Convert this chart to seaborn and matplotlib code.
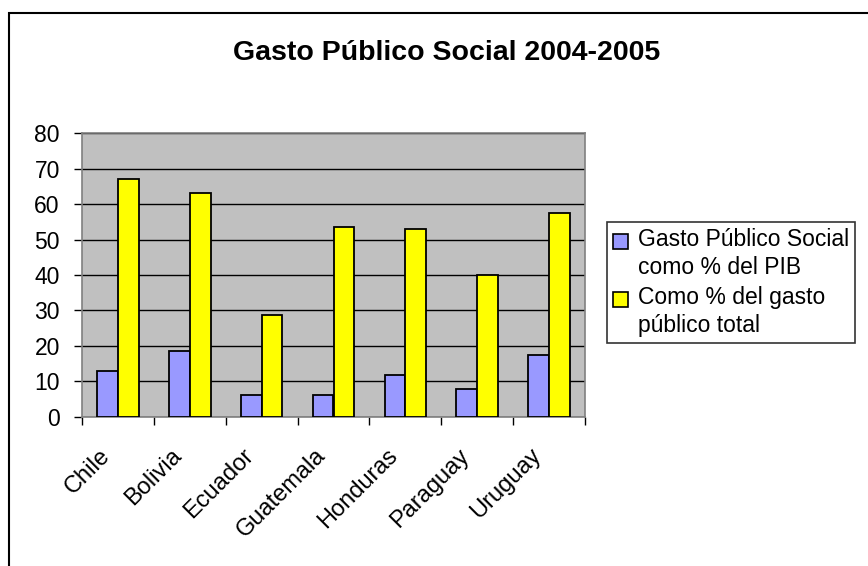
import matplotlib
matplotlib.use("Agg")
import matplotlib.pyplot as plt
import matplotlib.transforms as mtransforms
import seaborn as sns
import pandas as pd
from matplotlib.patches import Rectangle, Patch
from matplotlib.legend_handler import HandlerPatch

countries = ["Chile", "Bolivia", "Ecuador", "Guatemala", "Honduras", "Paraguay", "Uruguay"]
pib = [13.0, 18.6, 6.1, 6.1, 11.8, 7.9, 17.4]
total = [67.0, 63.1, 28.7, 53.5, 53.0, 40.0, 57.4]
series = ["Gasto Público Social\ncomo % del PIB", "Como % del gasto\npúblico total"]
colors = ["#9999FF", "#FFFF00"]
yticks = [0, 10, 20, 30, 40, 50, 60, 70, 80]
title = "Gasto Público Social 2004-2005"

df = pd.DataFrame({
    "Pais": countries * 2,
    "Serie": [series[0]] * len(countries) + [series[1]] * len(countries),
    "Valor": pib + total,
})

sns.set_style("white")
plt.rcParams["font.family"] = ["Liberation Sans", "DejaVu Sans"]
plt.rcParams["text.color"] = "black"
plt.rcParams["xtick.color"] = "black"
plt.rcParams["ytick.color"] = "black"

fig = plt.figure(figsize=(8.68, 5.66), dpi=100)
W, H = 868, 566
ax = fig.add_axes([82 / W, 1 - 416.7 / H, (585 - 82) / W, (416.7 - 133.3) / H])

sns.barplot(data=df, x="Pais", y="Valor", hue="Serie", palette=colors,
            saturation=1, width=0.58, edgecolor="black", linewidth=1.3,
            ax=ax, legend=False, zorder=3)

ax.set_facecolor("#C0C0C0")
ax.set_ylim(0, 80)
ax.set_xlim(-0.5, len(countries) - 0.5)
ax.set_yticks(yticks)
ax.set_yticklabels([str(t) for t in yticks], fontsize=16.5)
ax.yaxis.grid(True, color="black", linewidth=1.0, zorder=1)
ax.set_axisbelow(True)
ax.set_xlabel("")
ax.set_ylabel("")

ax.set_xticks(range(len(countries)))
ax.set_xticklabels(countries, rotation=45, ha="right", va="top",
                   rotation_mode="anchor", fontsize=17)
ax.tick_params(axis="x", which="major", length=0, pad=20, labelcolor="black")
offset = mtransforms.ScaledTranslation(-19 / 100, 0, fig.dpi_scale_trans)
for lbl in ax.get_xticklabels():
    lbl.set_transform(lbl.get_transform() + offset)
ax.set_xticks([i - 0.5 for i in range(len(countries) + 1)], minor=True)
ax.tick_params(axis="x", which="minor", bottom=True, length=6, width=1,
               color="black", direction="out")
ax.tick_params(axis="y", left=True, length=6, width=1, color="black",
               direction="out", pad=10, labelcolor="black")

for side in ["top", "right", "left", "bottom"]:
    ax.spines[side].set_color("#808080")
    ax.spines[side].set_linewidth(1.2)

fig.text(447 / W, 1 - 53 / H, title, ha="center", va="center",
         fontsize=20.5, fontweight="bold", color="black")


class TopHandler(HandlerPatch):
    def create_artists(self, legend, orig_handle, xdescent, ydescent,
                       width, height, fontsize, trans):
        shift = 9.5
        p = Rectangle((-xdescent, -ydescent + shift), width, height,
                      facecolor=orig_handle.get_facecolor(),
                      edgecolor="black", linewidth=1.2)
        p.set_transform(trans)
        return [p]


handles = [Patch(facecolor=c, edgecolor="black", linewidth=1.2) for c in colors]
leg = fig.legend(handles, series, loc="upper left",
                 bbox_to_anchor=(607 / W, 1 - 222 / H), borderaxespad=0,
                 fontsize=16.5, frameon=True, fancybox=False,
                 handlelength=0.65, handleheight=0.65, handletextpad=0.45,
                 labelspacing=0.3, borderpad=0.25,
                 handler_map={Patch: TopHandler()})
leg.get_frame().set_edgecolor("black")
leg.get_frame().set_linewidth(1.2)
for t in leg.get_texts():
    t.set_color("black")
    t.set_linespacing(1.3)

fig.patches.append(Rectangle((9 / W, -0.1), 1.2, (1 - 13.5 / H) + 0.1,
                             transform=fig.transFigure, fill=False,
                             edgecolor="black", linewidth=1.5))

fig.savefig("out.png", dpi=100)
